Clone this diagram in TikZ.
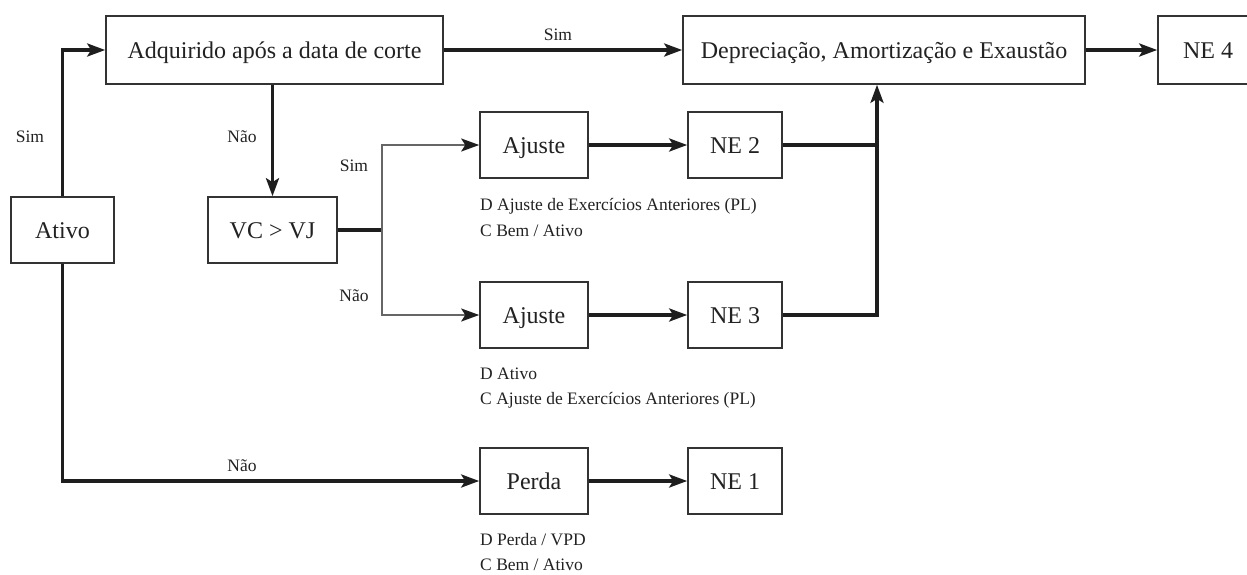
\documentclass[tikz,border=0pt]{standalone}
\usepackage{fontspec}
\setmainfont{Liberation Serif}
\usetikzlibrary{arrows.meta,calc}
\definecolor{txt}{HTML}{222222}
\definecolor{boxc}{HTML}{333333}
\definecolor{linec}{HTML}{1E1E1E}
\definecolor{grayc}{HTML}{666666}
\newcommand\boxfnt{\fontsize{24}{28}\selectfont}
\newcommand\lblfnt{\fontsize{17.5}{21}\selectfont}
\begin{document}
\begin{tikzpicture}[x=1pt,y=-1pt,
  box/.style={draw=boxc, line width=1.6pt, minimum height=66pt, inner sep=0pt, font=\boxfnt, text=txt, text height=16pt, text depth=0pt},
  lbl/.style={font=\lblfnt, text=txt, inner sep=0pt},
  note/.style={font=\lblfnt, text=txt, inner sep=0pt, anchor=base west},
  thickline/.style={line width=3.4pt, draw=linec},
  arr/.style={thickline, -{Stealth[length=18pt,width=13pt,inset=4pt]}},
  thinline/.style={line width=2pt, draw=grayc},
  thinarr/.style={thinline, -{Stealth[length=18pt,width=13pt,inset=4pt,color=linec]}}]
\useasboundingbox (0,0) rectangle (1247,574);
\fill[white] (0,0) rectangle (1247,574);
% boxes
\node[box, minimum width=103pt] (ativo) at (62.5,230) {Ativo};
\node[box, minimum width=337pt, minimum height=68pt] (adq) at (274.5,50) {Adquirido após a data de corte};
\node[box, minimum width=129pt] (vc) at (272.5,230) {VC > VJ};
\node[box, minimum width=108pt] (aj1) at (534,145) {Ajuste};
\node[box, minimum width=94pt] (ne2) at (735,145) {NE 2};
\node[box, minimum width=108pt] (aj2) at (534,315) {Ajuste};
\node[box, minimum width=94pt] (ne3) at (735,315) {NE 3};
\node[box, minimum width=108pt] (perda) at (534,481) {Perda};
\node[box, minimum width=94pt] (ne1) at (735,481) {NE 1};
\node[box, minimum width=402pt, minimum height=68pt] (dep) at (884,50) {Depreciação, Amortização e Exaustão};
\node[box, minimum width=100pt, minimum height=68pt] (ne4) at (1208,50) {NE 4};
% labels
\node[lbl] (lsim1) at (30,137) {Sim};
\node[lbl] (lnao1) at (242,137) {Não};
\node[lbl] (lsim2) at (354,166) {Sim};
\node[lbl] (lnao2) at (354,296) {Não};
\node[lbl] (lsim3) at (558,35) {Sim};
\node[lbl] (lnao3) at (242,466) {Não};
% notes
\node[note] (n1a) at (480,210) {D Ajuste de Exercícios Anteriores (PL)};
\node[note] (n1b) at (480,236) {C Bem / Ativo};
\node[note] (n2a) at (480,379) {D Ativo};
\node[note] (n2b) at (480,404) {C Ajuste de Exercícios Anteriores (PL)};
\node[note] (n3a) at (480,545) {D Perda / VPD};
\node[note] (n3b) at (480,570) {C Bem / Ativo};
% connectors
\coordinate (br) at (382,230);
\coordinate (jn) at (877,315);
\draw[arr] (ativo.north) |- (adq.west);
\draw[arr] (ativo.south) |- (perda.west);
\draw[arr] (adq.south -| vc.north) -- (vc.north);
\draw[arr] (adq.east) -- (dep.west);
\draw[arr] (dep.east) -- (ne4.west);
\draw[thickline] (vc.east) -- (br);
\draw[thinarr] (br) |- (aj1.west);
\draw[thinarr] (br) |- (aj2.west);
\draw[arr] (aj1.east) -- (ne2.west);
\draw[arr] (aj2.east) -- (ne3.west);
\draw[arr] (perda.east) -- (ne1.west);
\draw[thickline] (ne2.east) -- (ne2.east -| jn);
\draw[arr] (ne3.east) -- (jn) -- (jn |- dep.south);
\end{tikzpicture}
\end{document}
